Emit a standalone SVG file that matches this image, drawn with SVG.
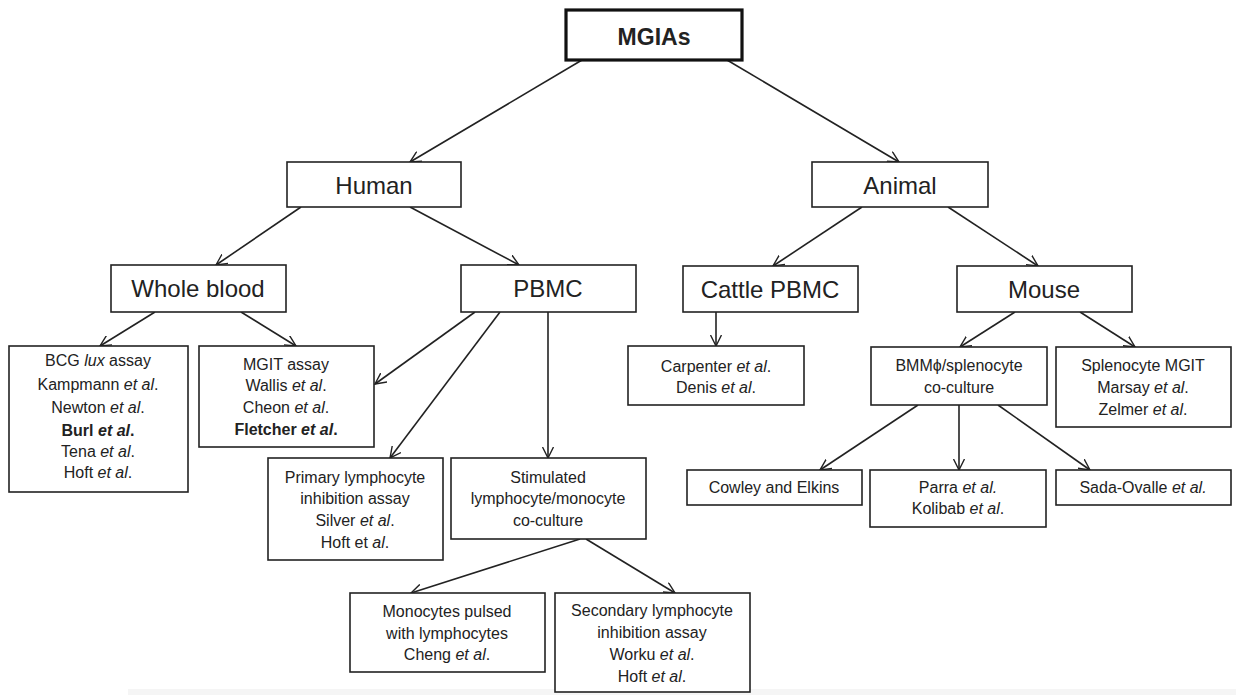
<svg xmlns="http://www.w3.org/2000/svg" width="1236" height="695" viewBox="0 0 1236 695">
<defs>
<marker id="ah" viewBox="0 0 12 12" refX="11" refY="6" markerWidth="12" markerHeight="12" markerUnits="userSpaceOnUse" orient="auto">
<path d="M0,0.5 L11,6 L0,11.5" fill="none" stroke="#222" stroke-width="1.4"/>
</marker>
</defs>
<style>
.b{fill:#fff;stroke:#222;stroke-width:1.6}
.bt{fill:#fff;stroke:#111;stroke-width:3.2}
.t{font-family:"Liberation Sans",Arial,sans-serif;font-size:16px;fill:#222;text-anchor:middle}
.L{font-family:"Liberation Sans",Arial,sans-serif;font-size:24px;fill:#222;text-anchor:middle}
.i{font-style:italic}
.w{font-weight:bold}
.c line{stroke:#222;stroke-width:1.6;marker-end:url(#ah)}
</style>
<rect x="0" y="0" width="1236" height="695" fill="#fff"/>
<rect x="128" y="689" width="1108" height="6" fill="#f5f5f5"/>
<g class="c" id="connectors">
<line x1="582" y1="60" x2="410" y2="162"/>
<line x1="727" y1="60" x2="899" y2="162"/>
<line x1="301" y1="207" x2="216" y2="265"/>
<line x1="410" y1="207" x2="519" y2="265"/>
<line x1="862" y1="207" x2="773" y2="266"/>
<line x1="948" y1="207" x2="1038" y2="266"/>
<line x1="155" y1="312" x2="100" y2="346"/>
<line x1="241" y1="312" x2="296" y2="346"/>
<line x1="475" y1="312" x2="375" y2="384"/>
<line x1="500" y1="312" x2="390" y2="458"/>
<line x1="548" y1="312" x2="548" y2="458"/>
<line x1="716" y1="312" x2="716" y2="346"/>
<line x1="1015" y1="312" x2="960" y2="347"/>
<line x1="1080" y1="312" x2="1135" y2="347"/>
<line x1="918" y1="405" x2="820" y2="470"/>
<line x1="959" y1="405" x2="959" y2="470"/>
<line x1="998" y1="405" x2="1090" y2="470"/>
<line x1="580" y1="539" x2="411" y2="593"/>
<line x1="586" y1="539" x2="675" y2="593"/>
</g>
<g id="mgias"><rect class="bt" x="566" y="10" width="176" height="50"/><text class="L w" x="654" y="45" style="font-size:23px">MGIAs</text></g>
<g id="human"><rect class="b" x="287" y="162" width="174" height="45"/><text class="L" x="374" y="194">Human</text></g>
<g id="animal"><rect class="b" x="812" y="162" width="176" height="45"/><text class="L" x="900" y="194">Animal</text></g>
<g id="wholeblood"><rect class="b" x="111" y="265" width="175" height="47"/><text class="L" x="198" y="297">Whole blood</text></g>
<g id="pbmc"><rect class="b" x="461" y="265" width="175" height="47"/><text class="L" x="548" y="297">PBMC</text></g>
<g id="cattle"><rect class="b" x="683" y="266" width="175" height="46"/><text class="L" x="770" y="298">Cattle PBMC</text></g>
<g id="mouse"><rect class="b" x="957" y="266" width="175" height="46"/><text class="L" x="1044" y="298">Mouse</text></g>
<g id="bcg"><rect class="b" x="9" y="346" width="179" height="146"/>
<text class="t" x="98" y="366">BCG <tspan class="i">lux</tspan> assay</text>
<text class="t" x="98" y="390">Kampmann <tspan class="i">et al</tspan>.</text>
<text class="t" x="98" y="413">Newton <tspan class="i">et al</tspan>.</text>
<text class="t w" x="98" y="436">Burl <tspan class="i">et al</tspan>.</text>
<text class="t" x="98" y="457">Tena <tspan class="i">et al</tspan>.</text>
<text class="t" x="98" y="478">Hoft <tspan class="i">et al</tspan>.</text>
</g>
<g id="mgit"><rect class="b" x="199" y="346" width="175" height="101"/>
<text class="t" x="286" y="370">MGIT assay</text>
<text class="t" x="286" y="391">Wallis <tspan class="i">et al</tspan>.</text>
<text class="t" x="286" y="413">Cheon <tspan class="i">et al</tspan>.</text>
<text class="t w" x="286" y="435">Fletcher <tspan class="i">et al</tspan>.</text>
</g>
<g id="primary"><rect class="b" x="268" y="458" width="175" height="102"/>
<text class="t" x="355" y="483">Primary lymphocyte</text>
<text class="t" x="355" y="504">inhibition assay</text>
<text class="t" x="355" y="526">Silver <tspan class="i">et al</tspan>.</text>
<text class="t" x="355" y="548">Hoft et <tspan class="i">al</tspan>.</text>
</g>
<g id="stimulated"><rect class="b" x="451" y="458" width="195" height="81"/>
<text class="t" x="548" y="483">Stimulated</text>
<text class="t" x="548" y="504">lymphocyte/monocyte</text>
<text class="t" x="548" y="526">co-culture</text>
</g>
<g id="monocytes"><rect class="b" x="350" y="593" width="195" height="79"/>
<text class="t" x="447" y="617">Monocytes pulsed</text>
<text class="t" x="447" y="639">with lymphocytes</text>
<text class="t" x="447" y="660">Cheng <tspan class="i">et al</tspan>.</text>
</g>
<g id="secondary"><rect class="b" x="555" y="593" width="195" height="99"/>
<text class="t" x="652" y="616">Secondary lymphocyte</text>
<text class="t" x="652" y="638">inhibition assay</text>
<text class="t" x="652" y="660">Worku <tspan class="i">et al</tspan>.</text>
<text class="t" x="652" y="682">Hoft <tspan class="i">et al</tspan>.</text>
</g>
<g id="carpenter"><rect class="b" x="628" y="346" width="176" height="59"/>
<text class="t" x="716" y="372">Carpenter <tspan class="i">et al</tspan>.</text>
<text class="t" x="716" y="393">Denis <tspan class="i">et al</tspan>.</text>
</g>
<g id="bmm"><rect class="b" x="871" y="347" width="176" height="58"/>
<text class="t" x="959" y="371">BMMϕ/splenocyte</text>
<text class="t" x="959" y="393">co-culture</text>
</g>
<g id="splenocyte"><rect class="b" x="1056" y="347" width="175" height="80"/>
<text class="t" x="1143" y="371">Splenocyte MGIT</text>
<text class="t" x="1143" y="393">Marsay <tspan class="i">et al</tspan>.</text>
<text class="t" x="1143" y="415">Zelmer <tspan class="i">et al</tspan>.</text>
</g>
<g id="cowley"><rect class="b" x="687" y="470" width="175" height="35"/>
<text class="t" x="774" y="493">Cowley and Elkins</text>
</g>
<g id="parra"><rect class="b" x="870" y="470" width="176" height="57"/>
<text class="t" x="958" y="493">Parra <tspan class="i">et al.</tspan></text>
<text class="t" x="958" y="514">Kolibab <tspan class="i">et al</tspan>.</text>
</g>
<g id="sada"><rect class="b" x="1056" y="470" width="175" height="35"/>
<text class="t" x="1143" y="493">Sada-Ovalle <tspan class="i">et al.</tspan></text>
</g>
</svg>
